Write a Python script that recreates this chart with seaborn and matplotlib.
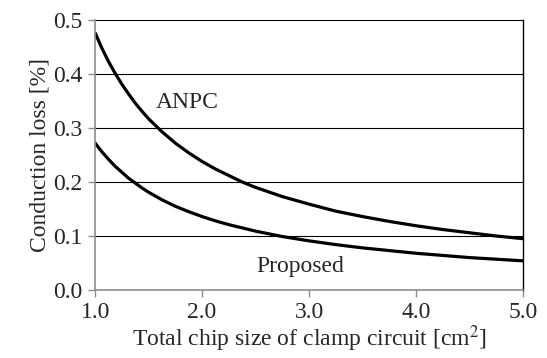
import pandas as pd
import matplotlib
matplotlib.use("Agg")
import matplotlib.pyplot as plt
import seaborn as sns

# Values
chip_size = [1.0, 1.0625, 1.125, 1.1875, 1.25, 1.3125, 1.375, 1.4375, 1.5,
             1.625, 1.75, 1.875, 2.0, 2.125, 2.25, 2.375, 2.5, 2.75, 3.0,
             3.25, 3.5, 3.75, 4.0, 4.25, 4.5, 4.75, 5.0]
anpc_loss = [0.476, 0.448, 0.423, 0.401, 0.381, 0.363, 0.346, 0.331, 0.317,
             0.293, 0.272, 0.254, 0.238, 0.224, 0.212, 0.200, 0.190, 0.173,
             0.159, 0.146, 0.136, 0.127, 0.119, 0.112, 0.106, 0.100, 0.095]
proposed_loss = [0.272, 0.256, 0.242, 0.229, 0.218, 0.207, 0.198, 0.189, 0.181,
                 0.167, 0.155, 0.145, 0.136, 0.128, 0.121, 0.115, 0.109, 0.099,
                 0.091, 0.084, 0.078, 0.073, 0.068, 0.064, 0.060, 0.057, 0.054]
x_ticks = [1.0, 2.0, 3.0, 4.0, 5.0]
y_ticks = [0.0, 0.1, 0.2, 0.3, 0.4, 0.5]

df = pd.DataFrame({
    "size": chip_size * 2,
    "loss": anpc_loss + proposed_loss,
    "topology": ["ANPC"] * len(chip_size) + ["Proposed"] * len(chip_size),
})

sns.set_style("white")
plt.rcParams["font.family"] = ["Liberation Serif", "DejaVu Serif"]
plt.rcParams["mathtext.fontset"] = "stix"

fig = plt.figure(figsize=(5.47, 3.58), dpi=100)
ax = fig.add_axes([0.174, 0.19, 0.782, 0.754])

sns.lineplot(data=df, x="size", y="loss", hue="topology",
             palette=["black", "black"], linewidth=2.3, legend=False, ax=ax)

ax.set_xlim(1.0, 5.0)
ax.set_ylim(0.0, 0.5)
ax.set_xticks(x_ticks)
ax.set_yticks(y_ticks)
ax.set_xticklabels([f"{t:.1f}" for t in x_ticks])
ax.set_yticklabels([f"{t:.1f}" for t in y_ticks])

# horizontal grid in black
for yv in y_ticks[1:]:
    ax.axhline(yv, color="black", linewidth=0.8, zorder=0, clip_on=False)

for side in ["left", "bottom"]:
    ax.spines[side].set_color("#8c8c8c")
    ax.spines[side].set_linewidth(1.2)
ax.spines["right"].set_color("black")
ax.spines["right"].set_linewidth(1.0)
ax.spines["top"].set_visible(False)

ax.tick_params(axis="both", direction="out", length=5, width=1.0,
               color="#8c8c8c", labelsize=17, pad=4,
               left=True, bottom=True)

ax.set_xlabel("Total chip size of clamp circuit [cm$^2$]", fontsize=17, labelpad=0)
ax.set_ylabel("Conduction loss [%]", fontsize=17, labelpad=2)

ax.text(1.86, 0.348, "ANPC", fontsize=17, ha="center", va="center")
ax.text(2.92, 0.043, "Proposed", fontsize=17, ha="center", va="center")

fig.savefig("out.png", dpi=100)
